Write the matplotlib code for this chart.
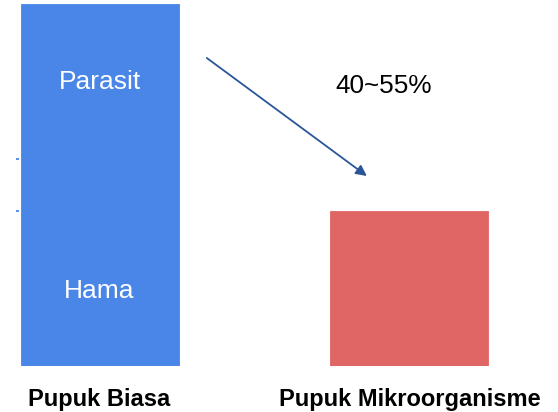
import matplotlib
matplotlib.use("Agg")
import matplotlib.pyplot as plt

categories = ["Pupuk Biasa", "Pupuk Mikroorganisme"]
values = [7, 3]
colors = ["#4A86E8", "#E06666"]
segment_labels = ["Parasit", "Hama"]
segment_label_y = [5.5, 1.45]
change_text = "40~55%"

plt.rcParams['font.family'] = ['Liberation Sans', 'DejaVu Sans']

W, H = 558, 412
fig = plt.figure(figsize=(W / 100, H / 100), dpi=100)
ax = fig.add_axes([19 / W, 46 / H, 471 / W, 362 / H])

x = list(range(len(categories)))
ax.bar(x, values, width=0.51, color=colors, edgecolor=colors, linewidth=0.6)

ax.set_xlim(-0.26, 1.26)
ax.set_ylim(0, 7)
for s in ax.spines.values():
    s.set_visible(False)

ax.set_xticks(x)
ax.set_xticklabels(categories, fontsize=17, fontweight='bold', color='black')
ax.tick_params(axis='x', length=0, pad=15.5)
ax.set_yticks([3, 4])
ax.set_yticklabels([])
ax.tick_params(axis='y', length=2, width=1.3, color='#4A86E8')

for lbl, yv in zip(segment_labels, segment_label_y):
    ax.text(x[0], yv, lbl, ha='center', va='center', fontsize=19, color='white')

ax.annotate("", xy=(0.8626, 3.674), xytext=(0.346, 5.956),
            arrowprops=dict(arrowstyle='-|>', color='#2A5599', lw=1.3,
                            mutation_scale=16, shrinkA=0, shrinkB=0))
ax.text(0.916, 5.42, change_text, ha='center', va='center', fontsize=18.8, color='black')

fig.savefig("out.png", dpi=100)
